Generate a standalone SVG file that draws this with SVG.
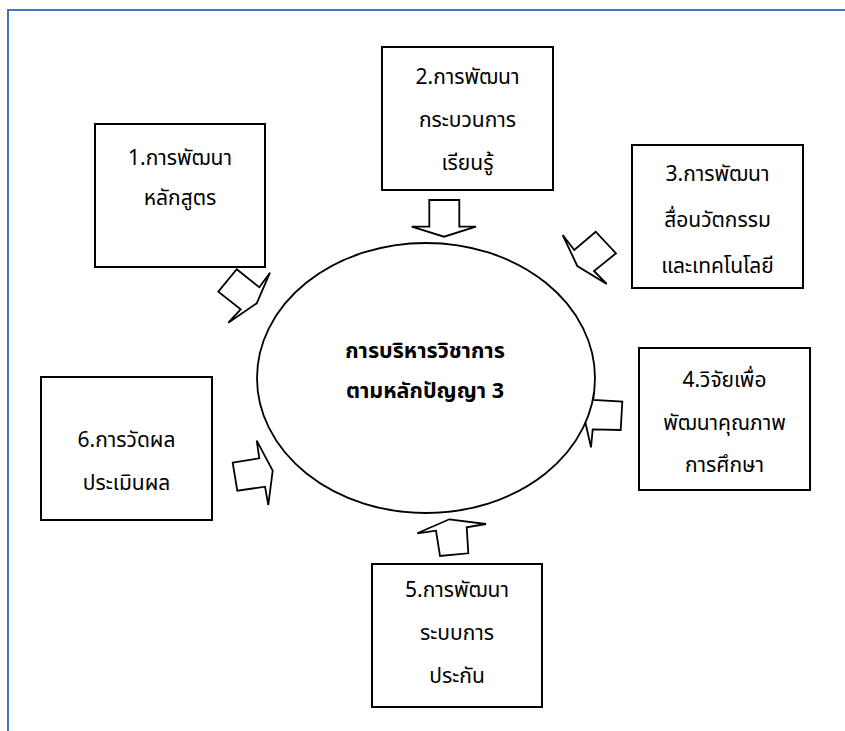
<svg xmlns="http://www.w3.org/2000/svg" width="845" height="731" viewBox="0 0 845 731">
<style>
.box{fill:#fff;stroke:#000;stroke-width:2}
.arr{fill:#fff;stroke:#000;stroke-width:1.8;stroke-linejoin:miter}
.t{font-family:"Noto Sans Thai","Noto Sans","Leelawadee UI",Tahoma,sans-serif;font-size:21px;fill:#000;text-anchor:middle}
.b{font-weight:bold;font-size:21.5px}
</style>
<rect width="845" height="731" fill="#fff"/>
<path d="M8,731 V10 H845" fill="none" stroke="#4472C4" stroke-width="2"/>
<g id="connectors">
<polygon class="arr" points="236.7,269.3 259.3,287.3 270,272.7 256.7,303.3 228.3,322.7 240.7,309.3 218.3,291.7"/>
<polygon class="arr" points="429.3,200 459.3,200 459.3,226.7 476,226.7 444,236.7 411.7,226.7 429.3,226.7"/>
<polygon class="arr" points="562.7,235 574.3,250 595.7,231.7 616,253.3 594,271 606.7,284 577.3,266"/>
<polygon class="arr" points="583.3,413.3 594.3,386 593.3,400 622.3,401.7 620.7,430 592.7,429.3 591,447.3"/>
<polygon class="arr" points="449.3,519.3 486,524 466.7,527.3 468.3,553.3 440,556 436,530.7 417.3,533.3"/>
<polygon class="arr" points="232.7,462.7 259.3,458.3 256.7,440.7 272.7,470.7 268.3,505 265,486.7 237.3,490.7"/>
</g>
<g id="center">
<ellipse cx="426" cy="378" rx="169" ry="135" fill="#fff" stroke="#000" stroke-width="1.8"/>
<text class="t b" x="425" y="358">การบริหารวิชาการ</text>
<text class="t b" x="425" y="398">ตามหลักปัญญา 3</text>
</g>
<g id="n1">
<rect class="box" x="95" y="124" width="170" height="143"/>
<text class="t" x="180" y="165">1.การพัฒนา</text>
<text class="t" x="180" y="205">หลักสูตร</text>
</g>
<g id="n2">
<rect class="box" x="382" y="47" width="171" height="143"/>
<text class="t" x="467.5" y="84">2.การพัฒนา</text>
<text class="t" x="467.5" y="127">กระบวนการ</text>
<text class="t" x="467.5" y="170">เรียนรู้</text>
</g>
<g id="n3">
<rect class="box" x="632" y="145" width="171" height="143"/>
<text class="t" x="717.5" y="181">3.การพัฒนา</text>
<text class="t" x="717.5" y="227">สื่อนวัตกรรม</text>
<text class="t" x="717.5" y="273">และเทคโนโลยี</text>
</g>
<g id="n4">
<rect class="box" x="639" y="348" width="171" height="142"/>
<text class="t" x="724.5" y="387">4.วิจัยเพื่อ</text>
<text class="t" x="724.5" y="430">พัฒนาคุณภาพ</text>
<text class="t" x="724.5" y="472">การศึกษา</text>
</g>
<g id="n5">
<rect class="box" x="372" y="564" width="170" height="143"/>
<text class="t" x="457" y="597">5.การพัฒนา</text>
<text class="t" x="457" y="640">ระบบการ</text>
<text class="t" x="457" y="683">ประกัน</text>
</g>
<g id="n6">
<rect class="box" x="41" y="377" width="171" height="143"/>
<text class="t" x="126.5" y="447">6.การวัดผล</text>
<text class="t" x="126.5" y="490">ประเมินผล</text>
</g>
</svg>
